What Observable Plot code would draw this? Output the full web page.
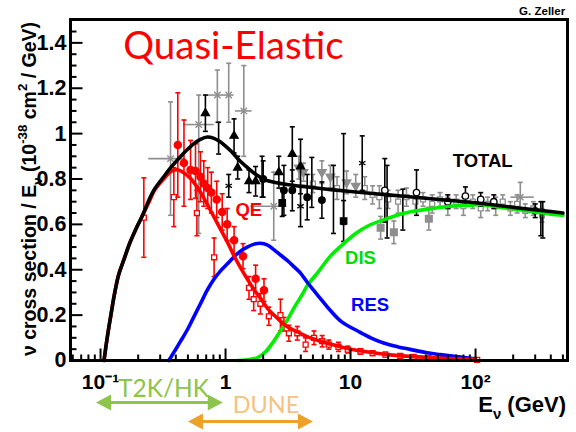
<!DOCTYPE html>
<html><head><meta charset="utf-8">
<script src="https://cdn.jsdelivr.net/npm/d3@7"></script>
<script src="https://cdn.jsdelivr.net/npm/@observablehq/plot@0.6"></script>
<style>body{margin:0;background:#fff} svg{display:block}</style>
</head><body><div id="chart"></div>
<script>
// ---- model curves [E (GeV), sigma/E] ----
const totalCurve = [[0.1066,0],[0.111,0.07],[0.116,0.14],[0.121,0.2],[0.13,0.3],[0.14,0.38],[0.155,0.45],[0.172,0.52],[0.192,0.58],[0.217,0.64],[0.245,0.71],[0.27,0.755],[0.32,0.81],[0.364,0.85],[0.43,0.895],[0.495,0.93],[0.57,0.96],[0.63,0.975],[0.715,0.985],[0.8,0.98],[0.9,0.965],[1.0,0.945],[1.12,0.92],[1.3,0.88],[1.5,0.85],[1.75,0.82],[2.1,0.795],[2.5,0.785],[3.2,0.775],[4.5,0.765],[6.5,0.755],[10,0.745],[20,0.73],[40,0.715],[63,0.705],[100,0.695],[200,0.675],[350,0.66],[500,0.65]];
const qeCurve = [[0.1066,0],[0.111,0.07],[0.116,0.14],[0.121,0.2],[0.13,0.3],[0.14,0.38],[0.155,0.45],[0.172,0.52],[0.192,0.58],[0.217,0.64],[0.245,0.70],[0.27,0.75],[0.32,0.80],[0.37,0.835],[0.42,0.84],[0.47,0.825],[0.53,0.80],[0.6,0.76],[0.68,0.71],[0.76,0.66],[0.85,0.61],[0.95,0.56],[1.05,0.515],[1.16,0.465],[1.3,0.415],[1.49,0.36],[1.7,0.31],[1.9,0.275],[2.2,0.225],[2.5,0.195],[3.1,0.15],[3.8,0.125],[4.5,0.105],[5.5,0.088],[6.9,0.072],[10,0.05],[15,0.035],[20,0.026],[35,0.016],[50,0.011],[75,0.007],[100,0.005]];
const resCurve = [[0.352,0],[0.39,0.04],[0.436,0.084],[0.5,0.14],[0.555,0.19],[0.63,0.25],[0.714,0.31],[0.8,0.355],[0.912,0.395],[1.03,0.425],[1.16,0.455],[1.3,0.48],[1.49,0.50],[1.7,0.513],[1.9,0.517],[2.15,0.51],[2.42,0.49],[2.75,0.465],[3.13,0.44],[3.5,0.415],[3.98,0.385],[4.5,0.345],[5.06,0.31],[5.9,0.265],[6.9,0.22],[8.5,0.17],[11.4,0.13],[14.5,0.10],[18.4,0.077],[24,0.06],[30,0.049],[40,0.035],[52,0.026],[70,0.017],[91,0.01],[100,0.008]];
const disCurve = [[1.24,0],[1.5,0.003],[1.79,0.012],[2.1,0.04],[2.42,0.084],[2.75,0.13],[3.13,0.18],[3.6,0.24],[4.1,0.29],[4.5,0.33],[5.5,0.39],[6.9,0.46],[8.8,0.515],[11,0.56],[14,0.595],[18.4,0.62],[25,0.645],[34,0.66],[45,0.67],[63,0.68],[90,0.685],[116,0.687],[160,0.675],[220,0.665],[300,0.655],[400,0.645],[500,0.64]];

// ---- measurements [E, value, error] ----
const qeFilled = [[0.415,0.95,0.23],[0.465,0.87,0.19],[0.525,0.84,0.13],[0.575,0.835,0.12],[0.63,0.81,0.11],[0.67,0.78,0.10],[0.72,0.76,0.09],[0.77,0.74,0.09],[0.85,0.71,0.08],[0.94,0.655,0.08],[1.03,0.60,0.07],[1.17,0.53,0.06],[1.38,0.46,0.055],[1.74,0.36,0.06],[2.03,0.31,0.05]];
const qeOpen = [[0.222,0.63,0.175],[0.386,0.72,0.13],[0.59,0.65,0.10],[0.81,0.455,0.085],[1.54,0.32,0.05],[1.68,0.27,0.05],[1.9,0.25,0.045],[2.22,0.195,0.04],[2.75,0.20,0.07],[2.93,0.16,0.03],[3.21,0.12,0.035],[3.75,0.12,0.03],[4.37,0.07,0.03],[5.1,0.10,0.03],[5.93,0.085,0.025],[6.7,0.07,0.02],[8,0.06,0.02],[9.5,0.048,0.015],[12,0.04,0.012],[15,0.032,0.01],[19,0.026,0.01],[25,0.02,0.008],[32,0.016,0.007],[42,0.012,0.006],[55,0.01,0.005],[72,0.007,0.004],[103,0.003,0.003]];
const blackTriangles = [[0.69,1.09,0.08],[1.17,0.99,0.075],[1.25,0.85,0.05],[1.54,0.79,0.05],[1.74,0.79,0.065],[2.67,0.83,0.07],[3.42,0.91,0.12],[3.98,0.855,0.12]];
const blackCircles = [[2.0,0.80,0.08],[2.93,0.75,0.11],[3.42,0.75,0.09],[4.5,0.72,0.1],[5.9,0.707,0.08]];
const blackSquares = [[2.84,0.695,0.06],[8.8,0.615,0.09]];
const blackStars = [[1.06,0.77,0.05],[3.98,0.68,0.09],[12.4,0.87,0.12]];
const blackBars = [[0.88,0.98,0.07],[1.96,0.81,0.09],[4.9,0.785,0.11],[7.3,0.71,0.15],[8.8,0.80,0.2],[19.6,0.70,0.16],[26.2,0.665,0.09],[333,0.625,0.075],[345,0.62,0.08]];
const blackOpen = [[18.8,0.75,0.14],[33.7,0.74,0.1],[60,0.70,0.03],[83,0.725,0.04],[110,0.71,0.03],[140,0.70,0.03],[300,0.66,0.03]];
// [E, value, Elow, Ehigh, low, high]
const grayCrosses = [[0.363,0.89,0.243,0.478,0.64,1.14],[0.61,1.04,0.46,0.81,0.56,1.17],[0.86,1.17,0.72,0.98,1.05,1.28],[1.06,1.17,0.98,1.17,1.05,1.31],[1.4,1.10,1.2,1.63,0.90,1.30],[2.43,0.68,1.6,3.1,0.53,0.83],[228,0.72,192,295,0.67,0.785]];
const graySquares = [[17.4,0.585,0.05],[22.2,0.565,0.05],[42.3,0.625,0.05]];
const grayTriangles = [[3.86,0.85,0.05],[4.2,0.83,0.04],[5.9,0.83,0.05],[6.9,0.81,0.05],[9.3,0.785,0.05],[11,0.77,0.05]];
const grayOpen = [[5.0,0.78,0.04],[7.8,0.76,0.05],[13,0.76,0.05],[15,0.73,0.04],[17,0.72,0.05],[20,0.71,0.04],[24,0.70,0.05],[28,0.72,0.04],[33,0.70,0.04],[38,0.71,0.03],[45,0.69,0.04],[52,0.71,0.03],[60,0.68,0.04],[70,0.70,0.03],[80,0.68,0.04],[95,0.70,0.03],[110,0.67,0.04],[125,0.69,0.03],[145,0.68,0.04],[165,0.70,0.03],[190,0.67,0.03],[215,0.69,0.04],[250,0.66,0.03],[290,0.67,0.03],[340,0.64,0.03]];

// ---- axes ----
const xTickValues = [0.1, 1, 10, 100];
const xTickLabels = ["10\u207B\u00B9", "1", "10", "10\u00B2"];
const yTickValues = [0, 0.2, 0.4, 0.6, 0.8, 1, 1.2, 1.4];
const yTickLabels = ["0", "0.2", "0.4", "0.6", "0.8", "1", "1.2", "1.4"];
const xDomain = [0.0575, 544];
const yDomain = [0, 1.503];

// ---- labels ----
const curveLabels = [
  {E: 65.6, v: 0.851, text: "TOTAL", color: "#000000"},
  {E: 1.2, v: 0.639, text: "QE", color: "#ff0000"},
  {E: 9.04, v: 0.4275, text: "DIS", color: "#00dd00"},
  {E: 10.1, v: 0.216, text: "RES", color: "#0000ff"}
];
const titleLabel = [{E: 0.152, v: 1.331, text: "Quasi-Elastic"}];
const authorLabel = [{E: 521, v: 1.525, text: "G. Zeller"}];
const t2kRange = [0.092, 0.95], t2kLevel = -0.185, t2kText = {E: 0.138, v: -0.163, text: "T2K/HK"};
const duneRange = [0.5, 5.0], duneLevel = -0.269, duneText = {E: 1.14, v: -0.2336, text: "DUNE"};

// ---- helpers ----
const FONT = "'Liberation Sans', Arial, Helvetica, sans-serif";
const cap = {draw(ctx){ ctx.moveTo(-2.5,0); ctx.lineTo(2.5,0); }};
const tickUp = len => ({draw(ctx){ ctx.moveTo(0,0); ctx.lineTo(0,-len); }});
const tickRight = len => ({draw(ctx){ ctx.moveTo(0,0); ctx.lineTo(len,0); }});
const headRight = {draw(ctx){ ctx.moveTo(0,0); ctx.lineTo(-15,-8); ctx.lineTo(-15,8); ctx.closePath(); }};
const headLeft = {draw(ctx){ ctx.moveTo(0,0); ctx.lineTo(15,-8); ctx.lineTo(15,8); ctx.closePath(); }};

function points(arr, color, marker) {
  const d = arr.map(([E, v, e]) => ({E, v, lo: v - e, hi: v + e}));
  const ms = [
    Plot.ruleX(d, {x: "E", y1: "lo", y2: "hi", stroke: color, strokeWidth: 1.6}),
    Plot.dot(d, {x: "E", y: "lo", symbol: cap, stroke: color, fill: "none", strokeWidth: 1.6}),
    Plot.dot(d, {x: "E", y: "hi", symbol: cap, stroke: color, fill: "none", strokeWidth: 1.6})
  ];
  if (marker) {
    ms.push(Plot.dot(d, {x: "E", y: "v", symbol: marker.symbol, r: marker.r ?? 3.5,
      fill: marker.open ? "white" : color, stroke: color, strokeWidth: 1.3, rotate: marker.rotate ?? 0}));
  }
  return ms;
}

const xMinor = [];
for (const dec of [0.01, 0.1, 1, 10, 100]) for (let k = 2; k <= 9; k++) {
  const v = k * dec; if (v > xDomain[0] && v < xDomain[1]) xMinor.push(v);
}
const yMinor = d3.range(0, 1.5, 0.05).filter(v => Math.abs(v / 0.2 - Math.round(v / 0.2)) > 1e-6);

const grayC = "#8e8e8e";
const grayCrossData = grayCrosses.map(([E, v, x1, x2, lo, hi]) => ({E, v, x1, x2, lo, hi}));

const line = (data, color) => Plot.line(data, {x: d => d[0], y: d => d[1], stroke: color, strokeWidth: 3.6, curve: "catmull-rom"});

const chart = Plot.plot({
  width: 576, height: 432,
  marginLeft: 70, marginRight: 9, marginTop: 19, marginBottom: 72,
  style: {fontFamily: FONT, background: "white"},
  x: {type: "log", domain: xDomain},
  y: {domain: yDomain},
  marks: [
    // data
    Plot.ruleY(grayCrossData, {y: "v", x1: "x1", x2: "x2", stroke: grayC, strokeWidth: 1.6}),
    Plot.ruleX(grayCrossData, {x: "E", y1: "lo", y2: "hi", stroke: grayC, strokeWidth: 1.6}),
    Plot.dot(grayCrossData, {x: "E", y: "lo", symbol: cap, stroke: grayC, fill: "none", strokeWidth: 1.6}),
    Plot.dot(grayCrossData, {x: "E", y: "hi", symbol: cap, stroke: grayC, fill: "none", strokeWidth: 1.6}),
    Plot.dot(grayCrossData, {x: "E", y: "v", symbol: "times", r: 3, stroke: grayC, strokeWidth: 1.4}),
    ...points(grayOpen, grayC, {symbol: "square", open: true, r: 2.8}),
    ...points(grayTriangles, grayC, {symbol: "triangle", rotate: 180, r: 3.2}),
    ...points(graySquares, grayC, {symbol: "square", r: 3.8}),
    ...points(blackBars, "#000"),
    ...points(blackOpen, "#000", {symbol: "circle", open: true, r: 3.2}),
    ...points(blackTriangles, "#000", {symbol: "triangle", r: 3}),
    ...points(blackCircles, "#000", {symbol: "circle", r: 3.3}),
    ...points(blackSquares, "#000", {symbol: "square", r: 3.6}),
    ...points(blackStars, "#000", {symbol: "asterisk", r: 3.5}),
    ...points(qeOpen, "#ff0000", {symbol: "square", open: true, r: 2.8}),
    ...points(qeFilled, "#ff0000", {symbol: "circle", r: 3.6}),
    // model curves
    line(disCurve, "#00ee00"),
    line(resCurve, "#0000ff"),
    line(qeCurve, "#ff0000"),
    line(totalCurve, "#000000"),
    // frame + ticks
    Plot.dot(xTickValues, {x: d => d, y: () => 0, symbol: tickUp(12), stroke: "black", fill: "none", strokeWidth: 2}),
    Plot.dot(xMinor, {x: d => d, y: () => 0, symbol: tickUp(6), stroke: "black", fill: "none", strokeWidth: 2}),
    Plot.dot(yTickValues, {x: () => xDomain[0], y: d => d, symbol: tickRight(12), stroke: "black", fill: "none", strokeWidth: 2}),
    Plot.dot(yMinor, {x: () => xDomain[0], y: d => d, symbol: tickRight(6), stroke: "black", fill: "none", strokeWidth: 2}),
    Plot.frame({stroke: "black", strokeWidth: 3}),
    Plot.axisX({ticks: xTickValues, tickFormat: d => xTickLabels[xTickValues.indexOf(d)], tickSize: 0, tickPadding: 14, fontSize: 21, fontWeight: "bold", fill: "black", label: null}),
    Plot.axisY({ticks: yTickValues, tickFormat: d => yTickLabels[yTickValues.indexOf(d)], tickSize: 0, tickPadding: 4, fontSize: 21.5, fontWeight: "bold", fill: "black", label: null}),
    // labels
    Plot.text(curveLabels, {x: "E", y: "v", text: "text", fill: "color", textAnchor: "start", lineAnchor: "bottom", fontSize: 18.5, fontWeight: "bold"}),
    Plot.text(titleLabel, {x: "E", y: "v", text: "text", fill: "#ff0000", textAnchor: "start", lineAnchor: "bottom", fontSize: 38.5, fontFamily: "Lato, 'Open Sans', sans-serif"}),
    Plot.text(authorLabel, {x: "E", y: "v", text: "text", fill: "#000", textAnchor: "end", lineAnchor: "bottom", fontSize: 11.5, fontWeight: "bold"}),
    // beam ranges
    Plot.ruleY([t2kLevel], {x1: t2kRange[0] * 1.12, x2: t2kRange[1] / 1.12, y: d => d, stroke: "#8dc44b", strokeWidth: 3}),
    Plot.dot([t2kRange[0]], {x: d => d, y: () => t2kLevel, symbol: headLeft, fill: "#8dc44b", stroke: "none"}),
    Plot.dot([t2kRange[1]], {x: d => d, y: () => t2kLevel, symbol: headRight, fill: "#8dc44b", stroke: "none"}),
    Plot.text([t2kText], {x: "E", y: "v", text: "text", fill: "#8dc44b", textAnchor: "start", lineAnchor: "bottom", fontSize: 24.5, fontFamily: "Lato, sans-serif"}),
    Plot.ruleY([duneLevel], {x1: duneRange[0] * 1.12, x2: duneRange[1] / 1.12, y: d => d, stroke: "#efa02a", strokeWidth: 3}),
    Plot.dot([duneRange[0]], {x: d => d, y: () => duneLevel, symbol: headLeft, fill: "#efa02a", stroke: "none"}),
    Plot.dot([duneRange[1]], {x: d => d, y: () => duneLevel, symbol: headRight, fill: "#efa02a", stroke: "none"}),
    Plot.text([duneText], {x: "E", y: "v", text: "text", fill: "#f6c27f", textAnchor: "start", lineAnchor: "bottom", fontSize: 23.5, fontFamily: "Lato, sans-serif"})
  ]
});
document.getElementById("chart").appendChild(chart);

// axis titles with sub/superscripts
const svg = d3.select(chart);
function rich(sel, parts, size) {
  let shift = 0;
  for (const [t, mode] of parts) {
    const target = mode === "sub" ? size * 0.3 : mode === "sup" ? -size * 0.45 : 0;
    sel.append("tspan").attr("dy", target - shift).attr("font-size", mode ? size * 0.68 : size).text(t);
    shift = target;
  }
}
const yl = svg.append("text").attr("transform", "translate(36,189) rotate(-90)")
  .attr("text-anchor", "middle").attr("font-family", FONT).attr("font-weight", "bold").attr("fill", "black");
rich(yl, [["\u03BD cross section / E"], ["\u03BD", "sub"], [" (10"], ["-38", "sup"], [" cm"], ["2", "sup"], [" / GeV)"]], 19.5);
const xl = svg.append("text").attr("x", 566).attr("y", 412)
  .attr("text-anchor", "end").attr("font-family", FONT).attr("font-weight", "bold").attr("fill", "black");
rich(xl, [["E"], ["\u03BD", "sub"], [" (GeV)"]], 22);
</script>
</body></html>
